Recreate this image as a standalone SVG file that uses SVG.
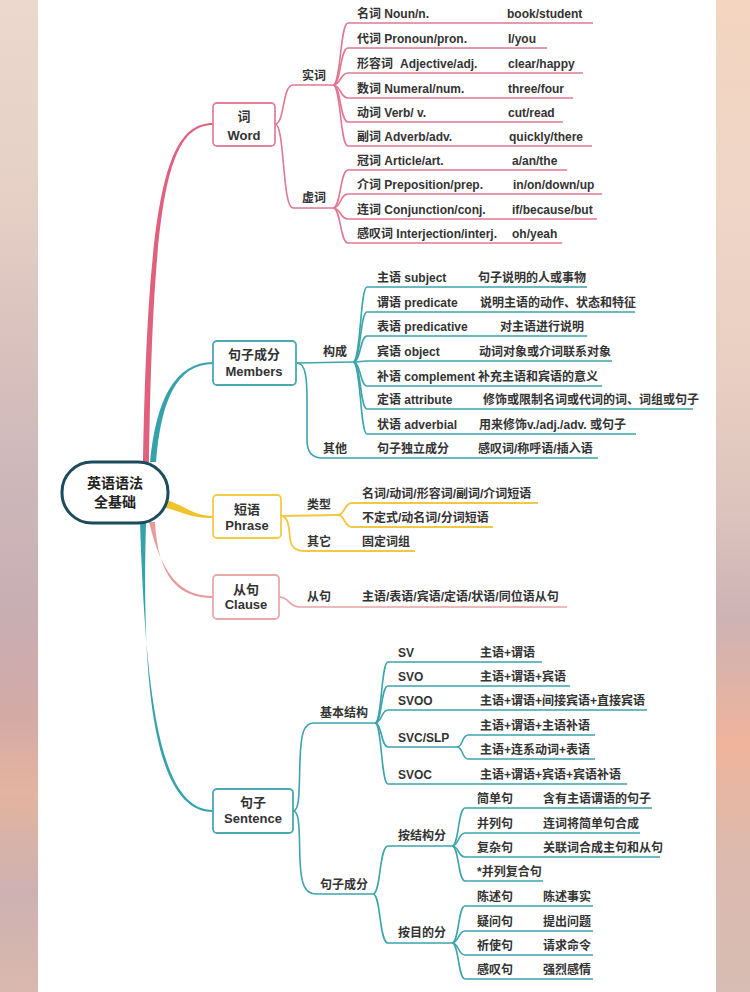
<svg xmlns="http://www.w3.org/2000/svg" width="750" height="992" viewBox="0 0 750 992">
<defs>
<linearGradient id="gl" x1="0" y1="0" x2="0" y2="1">
<stop offset="0" stop-color="#ecd8cc"/><stop offset="0.2" stop-color="#e6d0c6"/><stop offset="0.35" stop-color="#d9c1bd"/><stop offset="0.5" stop-color="#cdb6b9"/><stop offset="0.62" stop-color="#c8aeb3"/><stop offset="0.72" stop-color="#d4aaa6"/><stop offset="0.8" stop-color="#e3b49f"/><stop offset="0.9" stop-color="#cdb1b2"/><stop offset="1" stop-color="#d9b9ae"/>
</linearGradient>
<linearGradient id="gr" x1="0" y1="0" x2="0" y2="1">
<stop offset="0" stop-color="#f3d5c0"/><stop offset="0.2" stop-color="#efd6c7"/><stop offset="0.38" stop-color="#e9cfc2"/><stop offset="0.52" stop-color="#dcc3bd"/><stop offset="0.62" stop-color="#cdb3b4"/><stop offset="0.75" stop-color="#efb49b"/><stop offset="0.86" stop-color="#dcbaae"/><stop offset="1" stop-color="#d7bdb4"/>
</linearGradient>
<style>
.t{font-family:"Liberation Sans","Noto Sans CJK SC",sans-serif;font-size:12px;font-weight:bold;fill:#333}
.b{font-family:"Liberation Sans","Noto Sans CJK SC",sans-serif;font-size:13px;font-weight:bold;fill:#333;text-anchor:middle}
.c{font-family:"Liberation Sans","Noto Sans CJK SC",sans-serif;font-size:14px;font-weight:bold;fill:#222;text-anchor:middle}
.pk{fill:none;stroke:#e07894;stroke-width:1.6}
.tl{fill:none;stroke:#3ba4ad;stroke-width:1.6}
.yl{fill:none;stroke:#f0c843;stroke-width:1.8}
.sl{fill:none;stroke:#e9a3a3;stroke-width:1.6}
.box{fill:#fff;stroke-width:1.8}
</style>
</defs>
<rect x="0" y="0" width="750" height="992" fill="#fff"/>
<rect x="0" y="0" width="38" height="992" fill="url(#gl)"/>
<rect x="716" y="0" width="34" height="992" fill="url(#gr)"/>

<g id="connectors">
<!-- main connectors -->
<path d="M143,462 C148,200 165,123 213,123 L213,125 C167,125 153,200 149,462 Z" fill="#e0607e"/>
<path d="M150,462 C156,400 175,362 213,362 L213,364 C177,364 161,400 156,462 Z" fill="#35a2ab"/>
<path d="M166,500 C185,505 192,516 213,516 L213,518 C190,518 183,512 166,508 Z" fill="#f0c32a"/>
<path d="M149,522 C162,575 180,596 213,596 L213,598 C178,598 158,577 155,522 Z" fill="#e99a9a"/>
<path d="M140,523 C146,700 160,810 213,810 L213,812 C157,812 141,700 146,523 Z" fill="#35a2ab"/>

<!-- Word -->
<path class="pk" d="M275,124 C285,124 282,85 293,85 L333,85"/>
<path class="pk" d="M275,124 C285,124 282,208 293,208 L333,208"/>
<path class="pk" d="M333,85 C341,85 340,23 348,23 L593,23"/>
<path class="pk" d="M333,85 C341,85 340,48 348,48 L547,48"/>
<path class="pk" d="M333,85 C341,85 340,73 348,73 L583,73"/>
<path class="pk" d="M333,85 C341,85 340,98 348,98 L573,98"/>
<path class="pk" d="M333,85 C341,85 340,122 348,122 L563,122"/>
<path class="pk" d="M333,85 C341,85 340,146 348,146 L592,146"/>
<path class="pk" d="M333,208 C341,208 340,170 348,170 L567,170"/>
<path class="pk" d="M333,208 C341,208 340,194 348,194 L602,194"/>
<path class="pk" d="M333,208 C341,208 340,219 348,219 L597,219"/>
<path class="pk" d="M333,208 C341,208 340,243 348,243 L562,243"/>

<!-- Members -->
<path class="tl" d="M297,363 L353,362"/>
<path class="tl" d="M297,363 C306,363 307,380 307,400 L307,440 C307,452 312,458 322,458 L598,458"/>
<path class="tl" d="M353,362 C361,362 360,287 367,287 L587,287"/>
<path class="tl" d="M353,362 C361,362 360,312 367,312 L635,312"/>
<path class="tl" d="M353,362 C361,362 360,336 367,336 L587,336"/>
<path class="tl" d="M353,362 C361,362 360,361 367,361 L612,361"/>
<path class="tl" d="M353,362 C361,362 360,386 367,386 L602,386"/>
<path class="tl" d="M353,362 C361,362 360,409 367,409 L693,409"/>
<path class="tl" d="M353,362 C361,362 360,434 367,434 L636,434"/>

<!-- Phrase -->
<path class="yl" d="M281,516 L338,515"/>
<path class="yl" d="M338,515 C345,515 344,503 352,503 L538,503"/>
<path class="yl" d="M338,515 C345,515 344,527 352,527 L493,527"/>
<path class="yl" d="M281,516 C289,516 289,530 290,538 C291,548 296,551 305,551 L415,551"/>

<!-- Clause -->
<path class="sl" d="M279,597 C290,597 288,607 300,607 L567,607"/>

<!-- Sentence -->
<path class="tl" d="M293,811 C300,811 299,790 300,760 C301,735 303,723 314,723 L375,723"/>
<path class="tl" d="M293,811 C300,811 299,830 300,860 C301,885 305,894 316,894 L373,894"/>
<path class="tl" d="M375,723 C382,723 381,662 388,662 L542,662"/>
<path class="tl" d="M375,723 C382,723 381,686 388,686 L570,686"/>
<path class="tl" d="M375,723 C382,723 381,710 388,710 L647,710"/>
<path class="tl" d="M375,723 C382,723 381,747 388,747 L457,747"/>
<path class="tl" d="M375,723 C382,723 381,784 388,784 L627,784"/>
<path class="tl" d="M457,747 C463,747 462,735 468,735 L595,735"/>
<path class="tl" d="M457,747 C463,747 462,759 468,759 L595,759"/>
<path class="tl" d="M373,894 C381,894 379,846 388,846 L452,846"/>
<path class="tl" d="M373,894 C381,894 379,943 388,943 L452,943"/>
<path class="tl" d="M452,846 C459,846 458,808 465,808 L652,808"/>
<path class="tl" d="M452,846 C459,846 458,833 465,833 L640,833"/>
<path class="tl" d="M452,846 C459,846 458,857 465,857 L660,857"/>
<path class="tl" d="M452,846 C459,846 458,881 465,881 L543,881"/>
<path class="tl" d="M452,943 C459,943 458,906 465,906 L593,906"/>
<path class="tl" d="M452,943 C459,943 458,931 465,931 L593,931"/>
<path class="tl" d="M452,943 C459,943 458,955 465,955 L593,955"/>
<path class="tl" d="M452,943 C459,943 458,979 465,979 L593,979"/>
</g>

<g id="root">
<rect x="62" y="462" width="106" height="61" rx="30" fill="#fff" stroke="#1d4b5e" stroke-width="3"/>
<text class="c" x="115" y="488">英语语法</text>
<text class="c" x="115" y="507">全基础</text>
</g>

<g id="word">
<rect class="box" x="213" y="103" width="62" height="43" rx="4" stroke="#e0849d"/>
<text class="b" x="244" y="121">词</text>
<text class="b" x="244" y="140">Word</text>
<text class="t" x="302" y="80">实词</text>
<text class="t" x="302" y="202">虚词</text>
<text class="t" x="357" y="18">名词 Noun/n.</text><text class="t" x="507" y="18">book/student</text>
<text class="t" x="357" y="43">代词 Pronoun/pron.</text><text class="t" x="508" y="43">I/you</text>
<text class="t" x="357" y="68">形容词<tspan dx="7">Adjective/adj.</tspan></text><text class="t" x="508" y="68">clear/happy</text>
<text class="t" x="357" y="93">数词 Numeral/num.</text><text class="t" x="508" y="93">three/four</text>
<text class="t" x="357" y="117">动词 Verb/ v.</text><text class="t" x="508" y="117">cut/read</text>
<text class="t" x="357" y="141">副词 Adverb/adv.</text><text class="t" x="509" y="141">quickly/there</text>
<text class="t" x="357" y="165">冠词 Article/art.</text><text class="t" x="512" y="165">a/an/the</text>
<text class="t" x="357" y="189">介词 Preposition/prep.</text><text class="t" x="513" y="189">in/on/down/up</text>
<text class="t" x="357" y="214">连词 Conjunction/conj.</text><text class="t" x="512" y="214">if/because/but</text>
<text class="t" x="357" y="238">感叹词 Interjection/interj.</text><text class="t" x="512" y="238">oh/yeah</text>
</g>

<g id="members">
<rect class="box" x="213" y="341" width="83" height="44" rx="4" stroke="#4aa9b0"/>
<text class="b" x="254" y="359">句子成分</text>
<text class="b" x="254" y="376">Members</text>
<text class="t" x="323" y="356">构成</text>
<text class="t" x="323" y="453">其他</text>
<text class="t" x="377" y="282">主语 subject</text><text class="t" x="478" y="282">句子说明的人或事物</text>
<text class="t" x="377" y="307">谓语 predicate</text><text class="t" x="480" y="307">说明主语的动作、状态和特征</text>
<text class="t" x="377" y="331">表语 predicative</text><text class="t" x="500" y="331">对主语进行说明</text>
<text class="t" x="377" y="356">宾语 object</text><text class="t" x="479" y="356">动词对象或介词联系对象</text>
<text class="t" x="377" y="381">补语 complement</text><text class="t" x="478" y="381">补充主语和宾语的意义</text>
<text class="t" x="377" y="404">定语 attribute</text><text class="t" x="483" y="404">修饰或限制名词或代词的词、词组或句子</text>
<text class="t" x="377" y="429">状语 adverbial</text><text class="t" x="479" y="429">用来修饰v./adj./adv. 或句子</text>
<text class="t" x="377" y="453">句子独立成分</text><text class="t" x="478" y="453">感叹词/称呼语/插入语</text>
</g>

<g id="phrase">
<rect class="box" x="213" y="495" width="68" height="43" rx="4" stroke="#f2cc45"/>
<text class="b" x="247" y="514">短语</text>
<text class="b" x="247" y="530">Phrase</text>
<text class="t" x="307" y="509">类型</text>
<text class="t" x="307" y="546">其它</text>
<text class="t" x="362" y="498">名词/动词/形容词/副词/介词短语</text>
<text class="t" x="362" y="522">不定式/动名词/分词短语</text>
<text class="t" x="362" y="546">固定词组</text>
</g>

<g id="clause">
<rect class="box" x="213" y="575" width="66" height="44" rx="4" stroke="#e8a9a9"/>
<text class="b" x="246" y="594">从句</text>
<text class="b" x="246" y="609">Clause</text>
<text class="t" x="307" y="601">从句</text>
<text class="t" x="362" y="601">主语/表语/宾语/定语/状语/同位语从句</text>
</g>

<g id="sentence">
<rect class="box" x="213" y="789" width="80" height="44" rx="4" stroke="#4aa9b0"/>
<text class="b" x="253" y="807">句子</text>
<text class="b" x="253" y="823">Sentence</text>
<text class="t" x="320" y="717">基本结构</text>
<text class="t" x="320" y="889">句子成分</text>
<text class="t" x="398" y="657">SV</text><text class="t" x="480" y="657">主语+谓语</text>
<text class="t" x="398" y="681">SVO</text><text class="t" x="480" y="681">主语+谓语+宾语</text>
<text class="t" x="398" y="705">SVOO</text><text class="t" x="480" y="705">主语+谓语+间接宾语+直接宾语</text>
<text class="t" x="398" y="742">SVC/SLP</text>
<text class="t" x="480" y="730">主语+谓语+主语补语</text>
<text class="t" x="480" y="754">主语+连系动词+表语</text>
<text class="t" x="398" y="779">SVOC</text><text class="t" x="480" y="779">主语+谓语+宾语+宾语补语</text>
<text class="t" x="398" y="840">按结构分</text>
<text class="t" x="398" y="937">按目的分</text>
<text class="t" x="477" y="803">简单句</text><text class="t" x="543" y="803">含有主语谓语的句子</text>
<text class="t" x="477" y="828">并列句</text><text class="t" x="543" y="828">连词将简单句合成</text>
<text class="t" x="477" y="852">复杂句</text><text class="t" x="543" y="852">关联词合成主句和从句</text>
<text class="t" x="477" y="876">*并列复合句</text>
<text class="t" x="477" y="901">陈述句</text><text class="t" x="543" y="901">陈述事实</text>
<text class="t" x="477" y="926">疑问句</text><text class="t" x="543" y="926">提出问题</text>
<text class="t" x="477" y="950">祈使句</text><text class="t" x="543" y="950">请求命令</text>
<text class="t" x="477" y="974">感叹句</text><text class="t" x="543" y="974">强烈感情</text>
</g>
</svg>
